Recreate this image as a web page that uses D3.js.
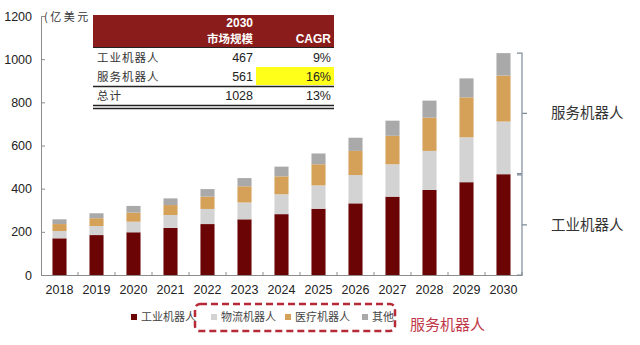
<!DOCTYPE html>
<html>
<head>
<meta charset="utf-8">
<script src="https://cdn.jsdelivr.net/npm/d3@7/dist/d3.min.js"></script>
<style>
  html, body { margin: 0; padding: 0; background: #fff; }
  svg { display: block; }
</style>
</head>
<body>
<svg id="chart" width="640" height="345"></svg>
<script>
// Robot market size by year (USD 100M), stacked by segment
const years = ["2018","2019","2020","2021","2022","2023","2024","2025","2026","2027","2028","2029","2030"];
const industrial = [170, 185, 198, 218, 236, 258, 282, 307, 332, 363, 394, 430, 467];
const logistics  = [34, 42, 49, 60, 70, 78, 92, 108, 131, 150, 181, 208, 244];
const medical    = [32, 36, 42, 46, 57, 75, 83, 98, 112, 132, 154, 185, 213];
const other      = [22, 23, 31, 31, 35, 38, 45, 50, 61, 70, 79, 88, 104];

const seriesNames = ["工业机器人", "物流机器人", "医疗机器人", "其他"];
const seriesColors = ["#6b0505", "#d3d3d3", "#d5a057", "#a9a9a9"];

const yTicks = [0, 200, 400, 600, 800, 1000, 1200];
const unitLabel = "(亿美元";

// 2030 summary table
const tableHeadYear = "2030";
const tableHeadSize = "市场规模";
const tableHeadCagr = "CAGR";
const tableRows = ["工业机器人", "服务机器人", "总计"];
const tableSize = [467, 561, 1028];
const tableCagr = ["9%", "16%", "13%"];

const groupLabels = ["服务机器人", "工业机器人"];
const serviceNote = "服务机器人";

const svg = d3.select("#chart");
const fontLatin = "Arial, 'Liberation Sans', sans-serif";
const fontCJK = "'Noto Sans CJK SC', sans-serif";

const x = d3.scaleBand().domain(years).range([41, 522]).paddingInner(0.62).paddingOuter(0.31);
const y = d3.scaleLinear().domain([0, 1200]).range([275, 16]);

const rows = years.map((yr, i) => ({
  year: yr,
  [seriesNames[0]]: industrial[i],
  [seriesNames[1]]: logistics[i],
  [seriesNames[2]]: medical[i],
  [seriesNames[3]]: other[i]
}));
const stacked = d3.stack().keys(seriesNames)(rows);

// bars
svg.append("g").selectAll("g").data(stacked).join("g")
  .attr("fill", (d, i) => seriesColors[i])
  .selectAll("rect").data(d => d).join("rect")
  .attr("x", d => x(d.data.year))
  .attr("width", x.bandwidth())
  .attr("y", d => y(d[1]))
  .attr("height", d => y(d[0]) - y(d[1]));

// y axis
const yAxis = svg.append("g").attr("transform", "translate(41,0)")
  .call(d3.axisLeft(y).tickValues(yTicks).tickFormat(d3.format("d"))
    .tickSizeInner(-4).tickSizeOuter(0).tickPadding(9));
yAxis.select(".domain").attr("stroke", "#8c8c8c");
yAxis.selectAll(".tick line").attr("stroke", "#8c8c8c");
yAxis.selectAll("text").attr("font-family", fontLatin).attr("font-size", 12.5).attr("fill", "#222");

// x axis
const xAxis = svg.append("g").attr("transform", "translate(0,275)")
  .call(d3.axisBottom(x).tickSize(0).tickPadding(10));
xAxis.select(".domain").attr("stroke", "#8c8c8c");
xAxis.selectAll("text").attr("font-family", fontLatin).attr("font-size", 12.5).attr("fill", "#222");
// category separators
const sep = years.slice(1).map(yr => x(yr) - x.step() * x.paddingInner() / 2);
sep.push(x.range()[1]);
xAxis.selectAll("line.sep").data(sep).join("line").attr("class", "sep")
  .attr("x1", d => d).attr("x2", d => d).attr("y1", 0).attr("y2", -3)
  .attr("stroke", "#8c8c8c");

// unit label
svg.append("text").attr("x", 44).attr("y", 21).text(unitLabel)
  .attr("font-family", fontCJK).attr("font-size", 11).attr("letter-spacing", 2.5).attr("fill", "#333");

// summary table
const tb = svg.append("g");
const tL = 93, tR = 334;
tb.append("rect").attr("x", tL).attr("y", 15).attr("width", tR - tL).attr("height", 32).attr("fill", "#8a1c1c");
tb.append("rect").attr("x", tL).attr("y", 47).attr("width", tR - tL).attr("height", 62).attr("fill", "#fff");
tb.append("text").attr("x", 253).attr("y", 27).attr("text-anchor", "end").text(tableHeadYear)
  .attr("font-family", fontLatin).attr("font-weight", "bold").attr("font-size", 12).attr("fill", "#fff");
tb.append("text").attr("x", 253).attr("y", 43).attr("text-anchor", "end").text(tableHeadSize)
  .attr("font-family", fontCJK).attr("font-weight", "bold").attr("font-size", 11.5).attr("fill", "#fff");
tb.append("text").attr("x", 331).attr("y", 43).attr("text-anchor", "end").text(tableHeadCagr)
  .attr("font-family", fontLatin).attr("font-weight", "bold").attr("font-size", 12).attr("fill", "#fff");
tb.append("line").attr("x1", tL).attr("x2", tR).attr("y1", 47.5).attr("y2", 47.5).attr("stroke", "#222").attr("stroke-width", 1);
// highlight for the service-robot growth rate
tb.append("rect").attr("x", 256).attr("y", 67).attr("width", 78).attr("height", 18).attr("fill", "#ffff1a");
const rowY = [62, 81, 100];
tableRows.forEach((name, i) => {
  tb.append("text").attr("x", 97).attr("y", rowY[i]).text(name)
    .attr("font-family", fontCJK).attr("font-size", 11.5).attr("letter-spacing", 1).attr("fill", "#333");
  tb.append("text").attr("x", 253).attr("y", rowY[i]).attr("text-anchor", "end").text(tableSize[i])
    .attr("font-family", fontLatin).attr("font-size", 12.5).attr("fill", "#222");
  tb.append("text").attr("x", 331).attr("y", rowY[i]).attr("text-anchor", "end").text(tableCagr[i])
    .attr("font-family", fontLatin).attr("font-size", 12.5).attr("fill", "#222");
});
tb.append("line").attr("x1", tL).attr("x2", tR).attr("y1", 86.5).attr("y2", 86.5).attr("stroke", "#222").attr("stroke-width", 1.5);
tb.append("line").attr("x1", tL).attr("x2", tR).attr("y1", 105.5).attr("y2", 105.5).attr("stroke", "#222").attr("stroke-width", 1.5);
tb.append("line").attr("x1", tL).attr("x2", tR).attr("y1", 108.5).attr("y2", 108.5).attr("stroke", "#222").attr("stroke-width", 1.5);

// brackets for the 2030 split
const last = rows.length - 1;
const total2030 = stacked[3][last][1];
const ind2030 = stacked[0][last][1];
const spans = [[total2030, ind2030 + 3], [ind2030 - 3, 0]];
const bx = 522;
const br = svg.append("g").attr("stroke", "#7d8c99").attr("fill", "none").attr("stroke-width", 1.2);
spans.forEach((s, i) => {
  const y0 = y(s[0]), y1 = y(s[1]), ym = (y0 + y1) / 2;
  br.append("path").attr("d", `M${bx - 5},${y0}H${bx}V${y1}H${bx - 5}M${bx},${ym}H${bx + 5}`);
  svg.append("text").attr("x", 551).attr("y", ym + 5).text(groupLabels[i])
    .attr("font-family", fontCJK).attr("font-size", 14.5).attr("fill", "#333");
});

// legend
const legX = [131, 211, 285, 362];
const lg = svg.append("g");
seriesNames.forEach((n, i) => {
  lg.append("rect").attr("x", legX[i]).attr("y", 314).attr("width", 6).attr("height", 6).attr("fill", seriesColors[i]);
  lg.append("text").attr("x", legX[i] + 10).attr("y", 321).text(n)
    .attr("font-family", fontCJK).attr("font-size", 11).attr("fill", "#444");
});
lg.append("rect").attr("x", 195).attr("y", 304).attr("width", 200).attr("height", 27).attr("rx", 5)
  .attr("fill", "none").attr("stroke", "#b52a36").attr("stroke-width", 2.5).attr("stroke-dasharray", "7,4");
lg.append("text").attr("x", 410).attr("y", 330).text(serviceNote)
  .attr("font-family", fontCJK).attr("font-size", 15).attr("fill", "#c0394a");
</script>
</body>
</html>
